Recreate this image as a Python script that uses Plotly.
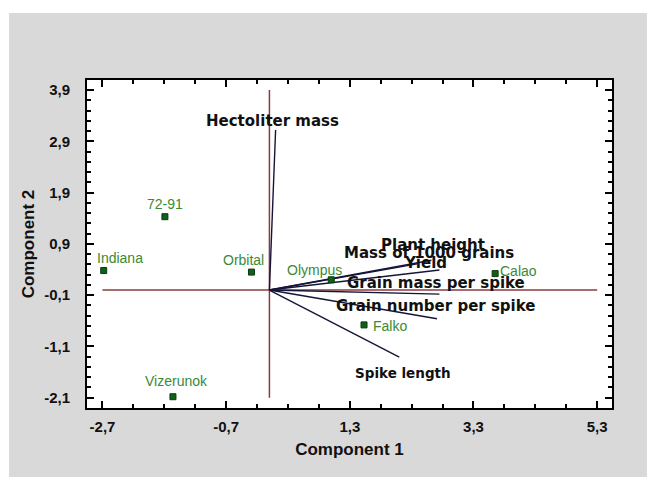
import plotly.graph_objects as go

# ---- data ----
cultivars = ["Indiana", "72-91", "Orbital", "Olympus", "Calao", "Falko", "Vizerunok"]
comp1_scores = [-2.68, -1.69, -0.29, 1.00, 3.65, 1.53, -1.56]
comp2_scores = [0.38, 1.43, 0.35, 0.20, 0.32, -0.68, -2.08]

traits = ["Hectoliter mass", "Plant height", "Mass of 1000 grains", "Yield",
          "Grain mass per spike", "Grain number per spike", "Spike length"]
comp1_loadings = [0.10, 2.62, 2.39, 2.75, 2.75, 2.71, 2.10]
comp2_loadings = [3.12, 0.58, 0.51, 0.39, -0.08, -0.56, -1.31]

x_tickvals = [-2.7, -0.7, 1.3, 3.3, 5.3]
x_ticktext = ["-2,7", "-0,7", "1,3", "3,3", "5,3"]
y_tickvals = [3.9, 2.9, 1.9, 0.9, -0.1, -1.1, -2.1]
y_ticktext = ["3,9", "2,9", "1,9", "0,9", "-0,1", "-1,1", "-2,1"]

# ---- label offsets in pixels and label sizes (layout only) ----
cultivar_label_shift = [(16, 13), (0, 13), (-8, 12), (-17, 10), (23, 3), (26, -1), (4, 16)]
trait_label_shift = [(-3, 9), (2, 15), (12, 11), (-14, 7), (-3, 11), (-2, 13), (4, -16)]
trait_label_size = [15, 15, 15, 15, 15, 15, 13.5]

RED = "#8a3c3c"
VEC = "#15153a"
GREEN_TXT = "#3a8a36"
GREEN_MK = "#11601a"

fig = go.Figure()

# reference axes through origin
fig.add_trace(go.Scatter(x=[x_tickvals[0], x_tickvals[-1]], y=[0, 0], mode="lines",
                         line=dict(color=RED, width=1.5), hoverinfo="skip", showlegend=False))
fig.add_trace(go.Scatter(x=[0, 0], y=[y_tickvals[-1], y_tickvals[0]], mode="lines",
                         line=dict(color=RED, width=1.5), hoverinfo="skip", showlegend=False))

# loading vectors
for name, lx, ly in zip(traits, comp1_loadings, comp2_loadings):
    fig.add_trace(go.Scatter(x=[0, lx], y=[0, ly], mode="lines",
                             line=dict(color=VEC, width=1.4), name=name, showlegend=False))

# cultivar scores
fig.add_trace(go.Scatter(x=comp1_scores, y=comp2_scores, mode="markers",
                         marker=dict(symbol="square", size=6, color=GREEN_MK,
                                     line=dict(color="#0a3a0f", width=1)),
                         text=cultivars, showlegend=False))

annotations = []
for name, sx, sy, (dx, dy) in zip(cultivars, comp1_scores, comp2_scores, cultivar_label_shift):
    annotations.append(dict(x=sx, y=sy, xref="x", yref="y", text=name, showarrow=False,
                            xshift=dx, yshift=dy, xanchor="center", yanchor="middle",
                            font=dict(family="Liberation Sans, Arial, sans-serif", size=14,
                                      color=GREEN_TXT)))
for name, lx, ly, (dx, dy), fs in zip(traits, comp1_loadings, comp2_loadings,
                                      trait_label_shift, trait_label_size):
    annotations.append(dict(x=lx, y=ly, xref="x", yref="y", text=name, showarrow=False,
                            xshift=dx, yshift=dy, xanchor="center", yanchor="middle",
                            font=dict(family="DejaVu Sans, sans-serif", size=fs,
                                      color="#111111", weight="bold")))

TICKFONT = dict(family="Liberation Sans, Arial, sans-serif", size=15, color="#111111", weight="bold")
TITLEFONT = dict(family="Liberation Sans, Arial, sans-serif", size=17, color="#111111", weight="bold")

fig.update_layout(
    width=647, height=477,
    margin=dict(l=87, r=35, t=80, b=69, autoexpand=False),
    paper_bgcolor="white",
    plot_bgcolor="white",
    annotations=annotations,
    shapes=[
        dict(type="rect", xref="paper", yref="paper", x0=-0.1486, x1=1.2, y0=-0.4, y1=1.2043,
             fillcolor="#d9d9d9", line=dict(width=0), layer="below"),
        dict(type="rect", xref="paper", yref="paper", x0=0, x1=1, y0=0, y1=1,
             fillcolor="white", line=dict(width=0), layer="below"),
    ],
    xaxis=dict(range=[-2.95, 5.54], tickmode="array", tickvals=x_tickvals, ticktext=x_ticktext,
               ticks="inside", ticklen=7, tickwidth=1.5, tickcolor="black",
               minor=dict(ticks="inside", tickmode="linear", tick0=-2.7, dtick=0.5, ticklen=4,
                          tickwidth=1.5, tickcolor="black", showgrid=False),
               showline=True, linecolor="black", linewidth=2, mirror="allticks",
               showgrid=False, zeroline=False, tickfont=TICKFONT, ticklabelstandoff=4,
               title=dict(text="Component 1", font=TITLEFONT, standoff=9)),
    yaxis=dict(range=[-2.30, 4.095], tickmode="array", tickvals=y_tickvals, ticktext=y_ticktext,
               ticks="inside", ticklen=7, tickwidth=1.5, tickcolor="black",
               minor=dict(ticks="inside", tickmode="linear", tick0=-2.1, dtick=0.2, ticklen=4,
                          tickwidth=1.5, tickcolor="black", showgrid=False),
               showline=True, linecolor="black", linewidth=2, mirror="allticks",
               showgrid=False, zeroline=False, tickfont=TICKFONT, ticklabelstandoff=12,
               title=dict(text="Component 2", font=TITLEFONT, standoff=5)),
)

# remove the default 8px page margin so the 647x477 figure fills the window exactly
fig.write_html("out.html", config={"displayModeBar": False},
               post_script="document.body.style.margin='0';document.body.style.overflow='hidden';")
